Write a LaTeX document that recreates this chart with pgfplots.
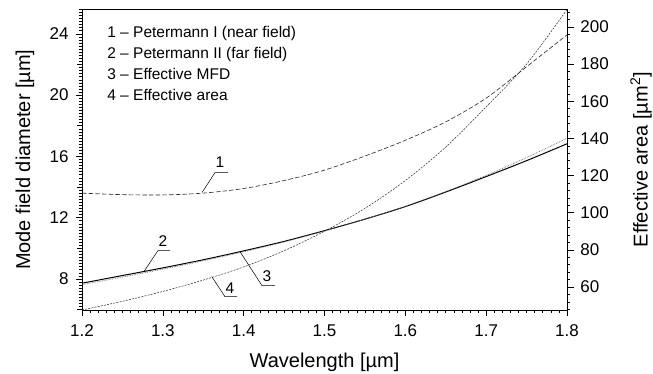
\documentclass[border=0pt]{standalone}
\usepackage{fontspec}
\setmainfont{Liberation Sans}
\usepackage{pgfplots}
\pgfplotsset{compat=1.18}
\begin{document}
\fontsize{15.5}{18}\selectfont
\begin{tikzpicture}
\pgfplotsset{every axis/.append style={
  scale only axis, width=485pt, height=300.7pt,
  xmin=1.2, xmax=1.8,
  /pgf/number format/assume math mode=true,
  tick align=outside,
  major tick length=6pt, minor tick length=3pt,
  every tick/.style={black, line width=0.5pt},
  tick label style={font=\fontsize{17}{20}\selectfont},
  label style={font=\fontsize{20}{24}\selectfont},
  axis line style={line width=0.6pt},
}}
\path[use as bounding box] (-82pt,-63pt) rectangle (571pt,310pt);
\begin{axis}[at={(0,0)}, anchor=south west,
  ymin=5.97, ymax=25.6,
  xtick={1.2,1.3,1.4,1.5,1.6,1.7,1.8},
  xticklabel style={yshift=-3pt, /pgf/number format/.cd, fixed, fixed zerofill, precision=1},
  minor xtick={1.21,1.22,...,1.795},
  ytick={8,12,16,20,24},
  yticklabel style={xshift=-2pt},
  minor ytick={6.2,6.4,...,25.5},
  extra y ticks={6,10,14,18,22},
  extra y tick labels={},
  extra y tick style={major tick length=4.5pt},
  xtick pos=bottom, ytick pos=left,
  xlabel={Wavelength [µm]},
  ylabel={Mode field diameter [µm]},
  xlabel style={at={(axis description cs:0.5,-0.1729)}, anchor=center},
  ylabel style={at={(axis description cs:-0.1175,0.5)}, anchor=center},
]
% curve 1: Petermann I (near field)
\addplot[black!85, line width=0.6pt, dash pattern=on 4.5pt off 2.2pt, smooth] coordinates {
(1.20,13.60) (1.25,13.50) (1.30,13.48) (1.35,13.60) (1.40,13.90) (1.45,14.42)
(1.50,15.10) (1.55,16.02) (1.60,17.05) (1.65,18.25) (1.70,19.80) (1.75,21.85) (1.80,23.93)};
% curve 2: Petermann II (far field)
\addplot[black, line width=1pt, smooth] coordinates {
(1.20,7.72) (1.25,8.22) (1.30,8.72) (1.35,9.25) (1.40,9.83) (1.45,10.45)
(1.50,11.15) (1.55,11.90) (1.60,12.72) (1.65,13.67) (1.70,14.68) (1.75,15.72) (1.80,16.82)};
% curve 3: Effective MFD
\addplot[black!60, line width=0.7pt, densely dotted, smooth] coordinates {
(1.20,7.62) (1.25,8.12) (1.30,8.64) (1.35,9.18) (1.40,9.77) (1.45,10.41)
(1.50,11.13) (1.55,11.90) (1.60,12.74) (1.65,13.70) (1.70,14.76) (1.75,15.92) (1.80,17.18)};
% legend text
\node[anchor=base west, font=\fontsize{15.5}{18}\selectfont] at (axis cs:1.2247,23.78) {1 -- Petermann I (near field)};
\node[anchor=base west, font=\fontsize{15.5}{18}\selectfont] at (axis cs:1.2247,22.41) {2 -- Petermann II (far field)};
\node[anchor=base west, font=\fontsize{15.5}{18}\selectfont] at (axis cs:1.2247,21.04) {3 -- Effective MFD};
\node[anchor=base west, font=\fontsize{15.5}{18}\selectfont] at (axis cs:1.2247,19.67) {4 -- Effective area};
% curve labels
\draw[line width=0.5pt] (axis cs:1.3485,13.64) -- (axis cs:1.3645,14.94) -- (axis cs:1.3806,14.94);
\node[font=\fontsize{15.5}{18}\selectfont] at (axis cs:1.3707,15.64) {1};
\draw[line width=0.5pt] (axis cs:1.2767,8.48) -- (axis cs:1.294,9.85) -- (axis cs:1.3089,9.85);
\node[font=\fontsize{15.5}{18}\selectfont] at (axis cs:1.3002,10.44) {2};
\draw[line width=0.5pt] (axis cs:1.3955,9.78) -- (axis cs:1.4227,7.56) -- (axis cs:1.4388,7.56);
\node[font=\fontsize{15.5}{18}\selectfont] at (axis cs:1.4289,8.15) {3};
\draw[line width=0.5pt] (axis cs:1.3605,8.15) -- (axis cs:1.3769,6.84) -- (axis cs:1.3918,6.84);
\node[font=\fontsize{15.5}{18}\selectfont] at (axis cs:1.3831,7.41) {4};
\end{axis}
\begin{axis}[at={(0,0)}, anchor=south west,
  ymin=47.6, ymax=209.5,
  axis y line*=right, axis x line=none,
  ytick={60,80,...,200},
  minor ytick={48,52,56,64,68,72,76,84,88,92,96,104,108,112,116,124,128,132,136,144,148,152,156,164,168,172,176,184,188,192,196,204,208},
  ytick pos=right,
  major tick length=7pt,
  yticklabel style={xshift=1pt},
  ylabel={Effective area [µm\textsuperscript{2}]},
  ylabel style={at={(axis description cs:1.1526,0.5)}, anchor=center, rotate=0},
]
% curve 4: Effective area
\addplot[black!85, line width=0.5pt, dash pattern=on 2pt off 1.2pt, smooth] coordinates {
(1.20,47.6) (1.25,52.3) (1.30,57.6) (1.35,63.7) (1.40,70.8) (1.45,79.5)
(1.50,90.0) (1.55,102.3) (1.60,117.3) (1.65,135.3) (1.70,157.0) (1.75,180.0) (1.80,209.4)};
\end{axis}
\end{tikzpicture}
\end{document}
